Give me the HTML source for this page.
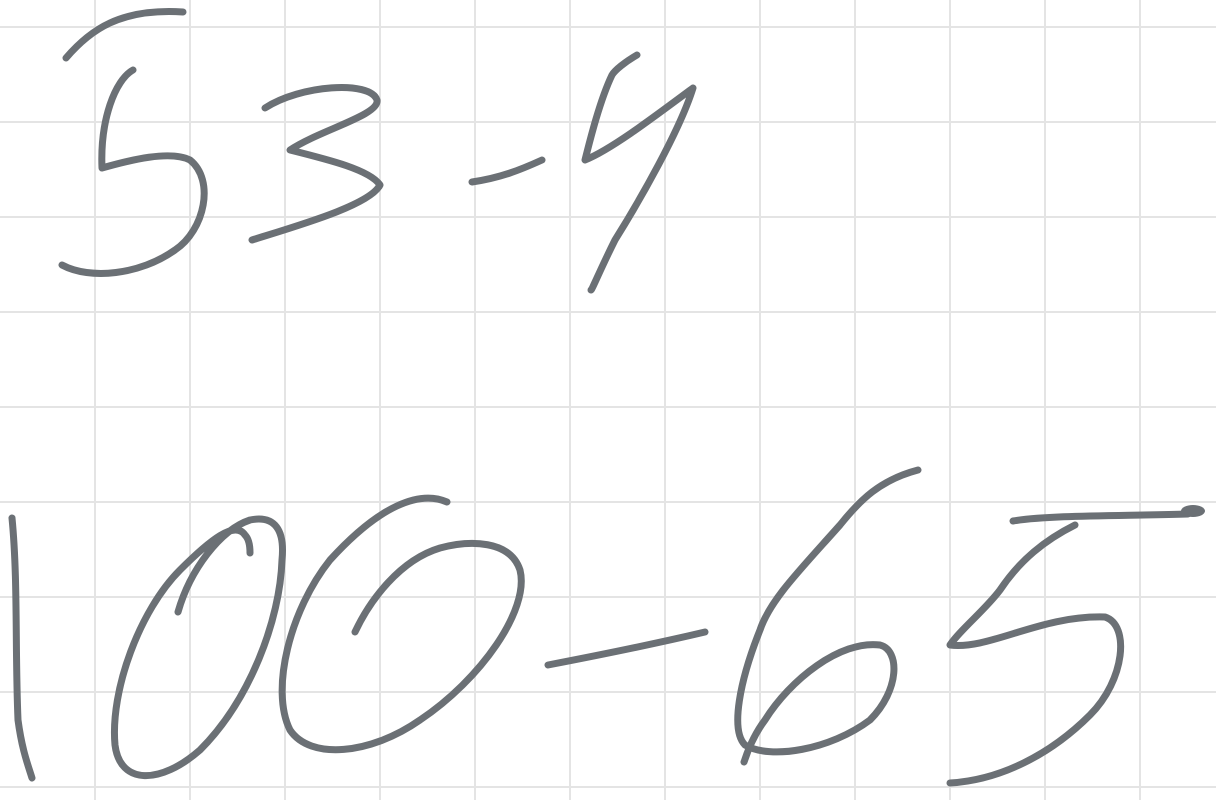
<!DOCTYPE html>
<html><head><meta charset="utf-8"><style>
html,body{margin:0;padding:0;background:#fff;width:1216px;height:800px;overflow:hidden}
.sr{position:absolute;left:0;top:0;opacity:0;font-family:"Liberation Sans",sans-serif}
</style></head><body>
<div class="sr">53-9 100-65</div>
<svg width="1216" height="800" viewBox="0 0 1216 800">
<g id="grid" stroke="#e4e4e4" stroke-width="2"></g>
<g fill="none" stroke="#6b7075" stroke-width="7" stroke-linecap="round" stroke-linejoin="round">
<path d="M66,58 C90,30 120,8 183,12"/>
<path d="M133,70 C115,80 100,120 102,168 C130,160 170,150 190,160 C215,180 205,230 175,250 C140,275 90,280 62,265"/>
<path d="M265,108 C300,85 370,80 377,100 C380,115 320,130 290,150 C330,160 370,170 380,185 C370,205 300,225 252,240"/>
<path d="M472,182 C500,178 520,170 542,160"/>
<path d="M637,55 C625,62 615,70 612,75 C600,100 590,140 585,160 C610,150 650,120 693,88 C680,130 640,200 615,240 C600,270 592,290 591,290"/>
<path d="M12,518 C18,580 15,650 18,720 C22,750 28,765 32,778"/>
<path d="M178,612 C190,570 220,530 250,520 C275,515 285,530 282,560 C280,620 250,700 200,750 C160,785 120,785 115,745 C110,690 140,610 180,570 C210,540 235,520 245,535 C250,540 250,550 250,553"/>
<path d="M447,502 C420,490 380,505 330,560 C290,610 270,690 290,730 C310,760 370,755 420,720 C480,680 530,610 520,570 C510,540 470,540 440,548 C400,560 370,600 355,632"/>
<path d="M548,665 C600,655 650,645 705,632"/>
<path d="M918,470 C880,480 860,500 840,525 C800,570 770,600 760,630 C740,680 730,730 745,745 C770,760 830,750 870,720 C900,690 900,650 880,645 C840,640 790,680 765,720 C750,740 745,760 744,762"/>
<path d="M1013,521 C1050,515 1120,516 1188,514"/>
<path d="M1075,525 C1045,540 1020,560 1000,590 C985,610 960,630 950,645 C990,650 1040,615 1105,617 C1130,625 1125,680 1090,715 C1050,755 1000,780 950,783"/>
</g>
<ellipse cx="1193" cy="511" rx="12" ry="6" fill="#6b7075"/>
</svg>
<script>
const g=document.getElementById('grid');
for(let x=0;x<=1216;x+=95){if(x===0)continue;const l=document.createElementNS('http://www.w3.org/2000/svg','line');


l.setAttribute('x1',x);l.setAttribute('x2',x);l.setAttribute('y1',0);l.setAttribute('y2',800);g.appendChild(l);}
for(let y=27;y<=800;y+=95){const l=document.createElementNS('http://www.w3.org/2000/svg','line');


l.setAttribute('x1',0);l.setAttribute('x2',1216);l.setAttribute('y1',y);l.setAttribute('y2',y);g.appendChild(l);}
</script>
</body></html>
